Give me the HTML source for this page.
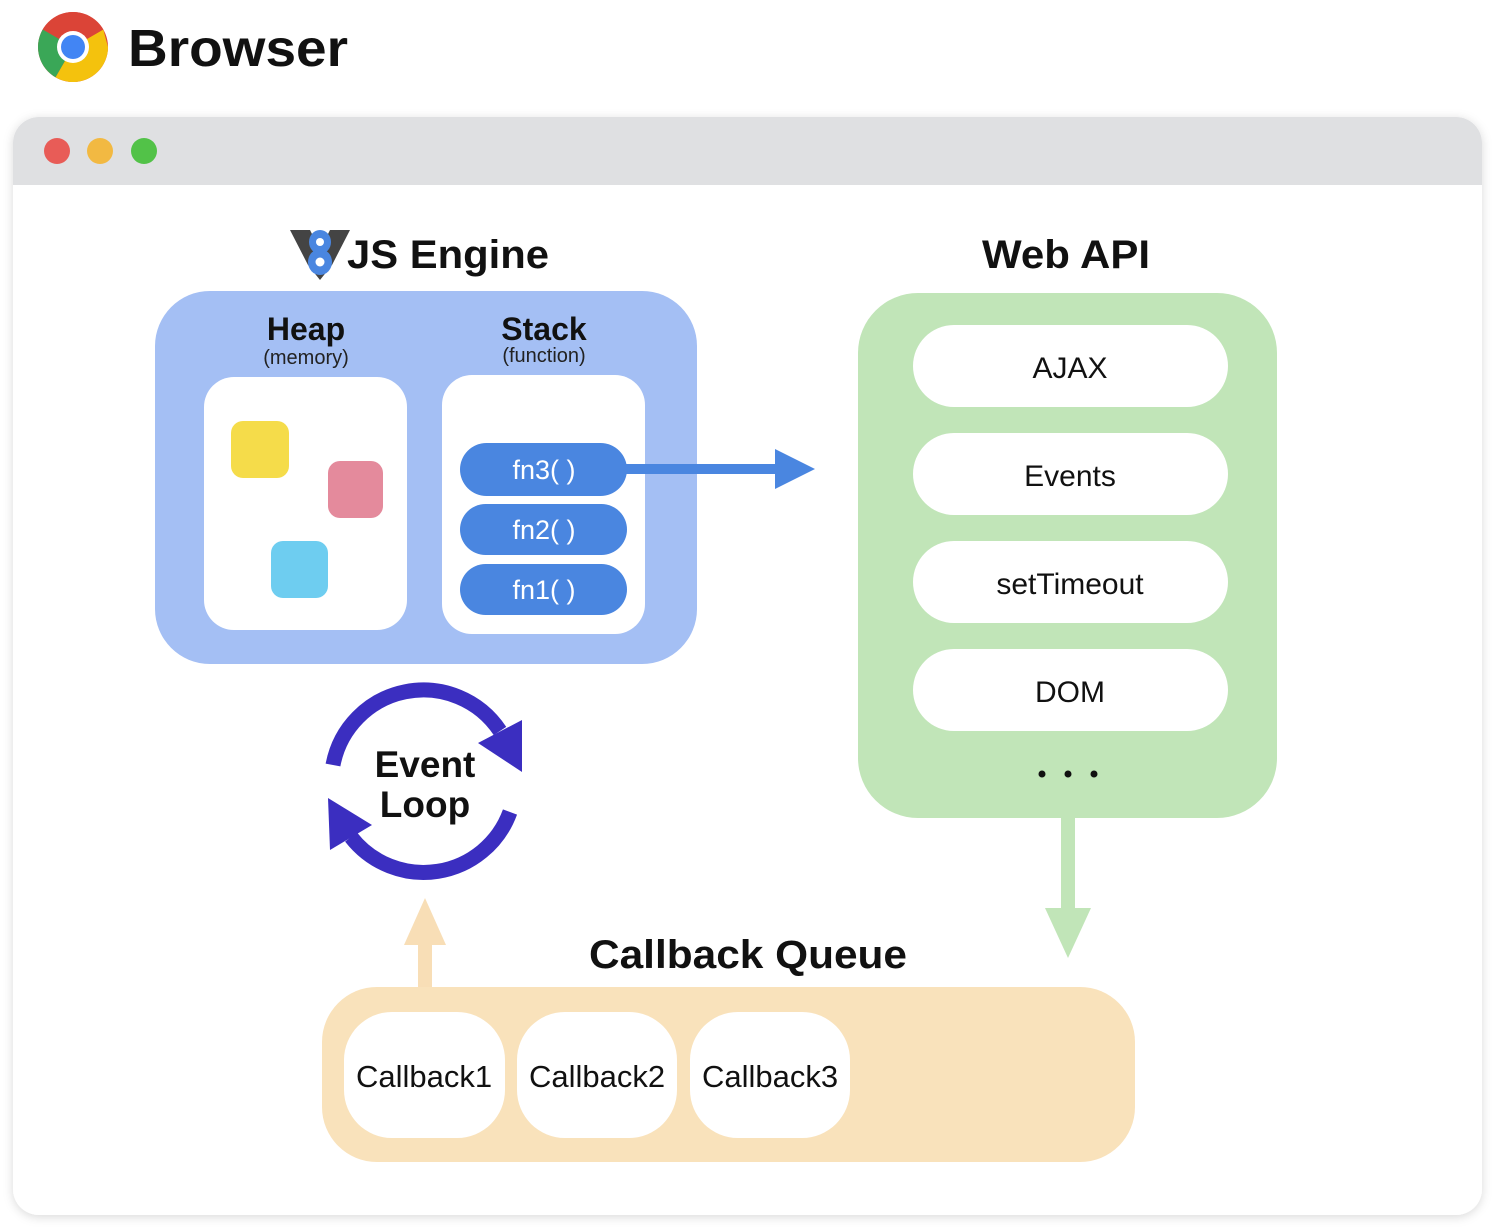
<!DOCTYPE html>
<html><head><meta charset="utf-8"><style>
html,body{margin:0;padding:0;background:#fff;}
svg{display:block;}
text{font-family:"Liberation Sans",Arial,sans-serif;}
</style></head><body>
<svg width="1498" height="1228" viewBox="0 0 1498 1228" xmlns="http://www.w3.org/2000/svg">
<defs>
<filter id="sh" x="-5%" y="-5%" width="110%" height="110%"><feDropShadow dx="0" dy="2" stdDeviation="5" flood-color="#000" flood-opacity="0.15"/></filter>
</defs>
<rect width="1498" height="1228" fill="#fff"/>
<g transform="translate(73,47)">
<circle r="35" fill="#db4437"/>
<path d="M0,0 L-17.5,30.3 A35,35 0 0 0 35,0 L30.3,-17.5 Z" fill="#f4c20d"/>
<path d="M0,0 L30.3,-17.5 A35,35 0 0 0 -30.3,-17.5 Z" fill="#db4437"/>
<path d="M-30.3,-17.5 A35,35 0 0 0 -17.5,30.3 L0,0 Z" fill="#3aa757"/>
<circle r="16" fill="#fff"/><circle r="12" fill="#4285f4"/>
</g>
<text x="128" y="66" font-size="52" font-weight="bold" fill="#111" textLength="220" lengthAdjust="spacingAndGlyphs">Browser</text>
<rect x="13" y="117" width="1469" height="1098" rx="26" fill="#fff" filter="url(#sh)"/>
<path d="M13,185 V143 A26,26 0 0 1 39,117 H1456 A26,26 0 0 1 1482,143 V185 Z" fill="#dfe0e2"/>
<circle cx="57" cy="151" r="13" fill="#e85c57"/>
<circle cx="100" cy="151" r="13" fill="#f2b942"/>
<circle cx="144" cy="151" r="13" fill="#52c248"/>
<g transform="translate(320,250)">
<path d="M-30,-20 L-10,-20 L0,0 L10,-20 L30,-20 L12,15 L0,30 L-12,15 Z" fill="#444"/>
<ellipse cx="0" cy="-8" rx="11" ry="12" fill="#4a86e0"/><ellipse cx="0" cy="12" rx="12" ry="13" fill="#4a86e0"/>
<circle cx="0" cy="-8" r="4" fill="#fff"/><circle cx="0" cy="12" r="4.5" fill="#fff"/>
</g>
<text x="347" y="268" font-size="40" font-weight="bold" fill="#111" textLength="202" lengthAdjust="spacingAndGlyphs">JS Engine</text>
<rect x="155" y="291" width="542" height="373" rx="55" fill="#a4bff4"/>
<text x="306" y="340" font-size="32" font-weight="bold" text-anchor="middle" fill="#111">Heap</text>
<text x="306" y="364" font-size="20" text-anchor="middle" fill="#222">(memory)</text>
<text x="544" y="340" font-size="32" font-weight="bold" text-anchor="middle" fill="#111">Stack</text>
<text x="544" y="362" font-size="20" text-anchor="middle" fill="#222">(function)</text>
<rect x="204" y="377" width="203" height="253" rx="30" fill="#fff"/>
<rect x="442" y="375" width="203" height="259" rx="30" fill="#fff"/>
<rect x="231" y="421" width="58" height="57" rx="12" fill="#f5dc4a"/>
<rect x="328" y="461" width="55" height="57" rx="12" fill="#e48a9c"/>
<rect x="271" y="541" width="57" height="57" rx="12" fill="#6ecdf0"/>
<g fill="#4a86e0">
<rect x="460" y="443" width="167" height="53" rx="26.5"/>
<rect x="460" y="504" width="167" height="51" rx="25.5"/>
<rect x="460" y="564" width="167" height="51" rx="25.5"/>
<rect x="620" y="464" width="160" height="10"/>
<polygon points="775,449 815,469 775,489"/>
</g>
<g font-size="27" fill="#fff" text-anchor="middle">
<text x="544" y="479">fn3( )</text>
<text x="544" y="539">fn2( )</text>
<text x="544" y="599">fn1( )</text>
</g>
<text x="1066" y="268" font-size="40" font-weight="bold" text-anchor="middle" fill="#111" textLength="168" lengthAdjust="spacingAndGlyphs">Web API</text>
<rect x="858" y="293" width="419" height="525" rx="60" fill="#c1e5b8"/>
<g fill="#fff">
<rect x="913" y="325" width="315" height="82" rx="41"/>
<rect x="913" y="433" width="315" height="82" rx="41"/>
<rect x="913" y="541" width="315" height="82" rx="41"/>
<rect x="913" y="649" width="315" height="82" rx="41"/>
</g>
<g font-size="30" fill="#111" text-anchor="middle">
<text x="1070" y="378">AJAX</text>
<text x="1070" y="486">Events</text>
<text x="1070" y="594">setTimeout</text>
<text x="1070" y="702">DOM</text>
</g>
<g fill="#111"><circle cx="1042" cy="774" r="3.5"/><circle cx="1068" cy="774" r="3.5"/><circle cx="1094" cy="774" r="3.5"/></g>
<rect x="1061" y="818" width="14" height="95" fill="#c1e5b8"/>
<polygon points="1045,908 1091,908 1068,958" fill="#c1e5b8"/>
<g fill="none" stroke="#3b2ec0" stroke-width="15">
<path d="M333,765 A92,92 0 0 1 500,731"/>
<path d="M510,812 A92,92 0 0 1 351,837"/>
</g>
<g fill="#3b2ec0">
<polygon points="522,720 478,743 522,772"/>
<polygon points="328,798 372,825 330,850"/>
</g>
<text x="425" y="777" font-size="37" font-weight="bold" text-anchor="middle" fill="#111">Event</text>
<text x="425" y="817" font-size="37" font-weight="bold" text-anchor="middle" fill="#111">Loop</text>
<rect x="418" y="940" width="14" height="55" fill="#f8deb6"/>
<polygon points="404,945 446,945 425,898" fill="#f8deb6"/>
<text x="748" y="968" font-size="40" font-weight="bold" text-anchor="middle" fill="#111" textLength="318" lengthAdjust="spacingAndGlyphs">Callback Queue</text>
<rect x="322" y="987" width="813" height="175" rx="55" fill="#f9e2bb"/>
<g fill="#fff">
<rect x="344" y="1012" width="161" height="126" rx="48"/>
<rect x="517" y="1012" width="160" height="126" rx="48"/>
<rect x="690" y="1012" width="160" height="126" rx="48"/>
</g>
<g font-size="31" fill="#111" text-anchor="middle">
<text x="424" y="1087">Callback1</text>
<text x="597" y="1087">Callback2</text>
<text x="770" y="1087">Callback3</text>
</g>
</svg>
</body></html>
